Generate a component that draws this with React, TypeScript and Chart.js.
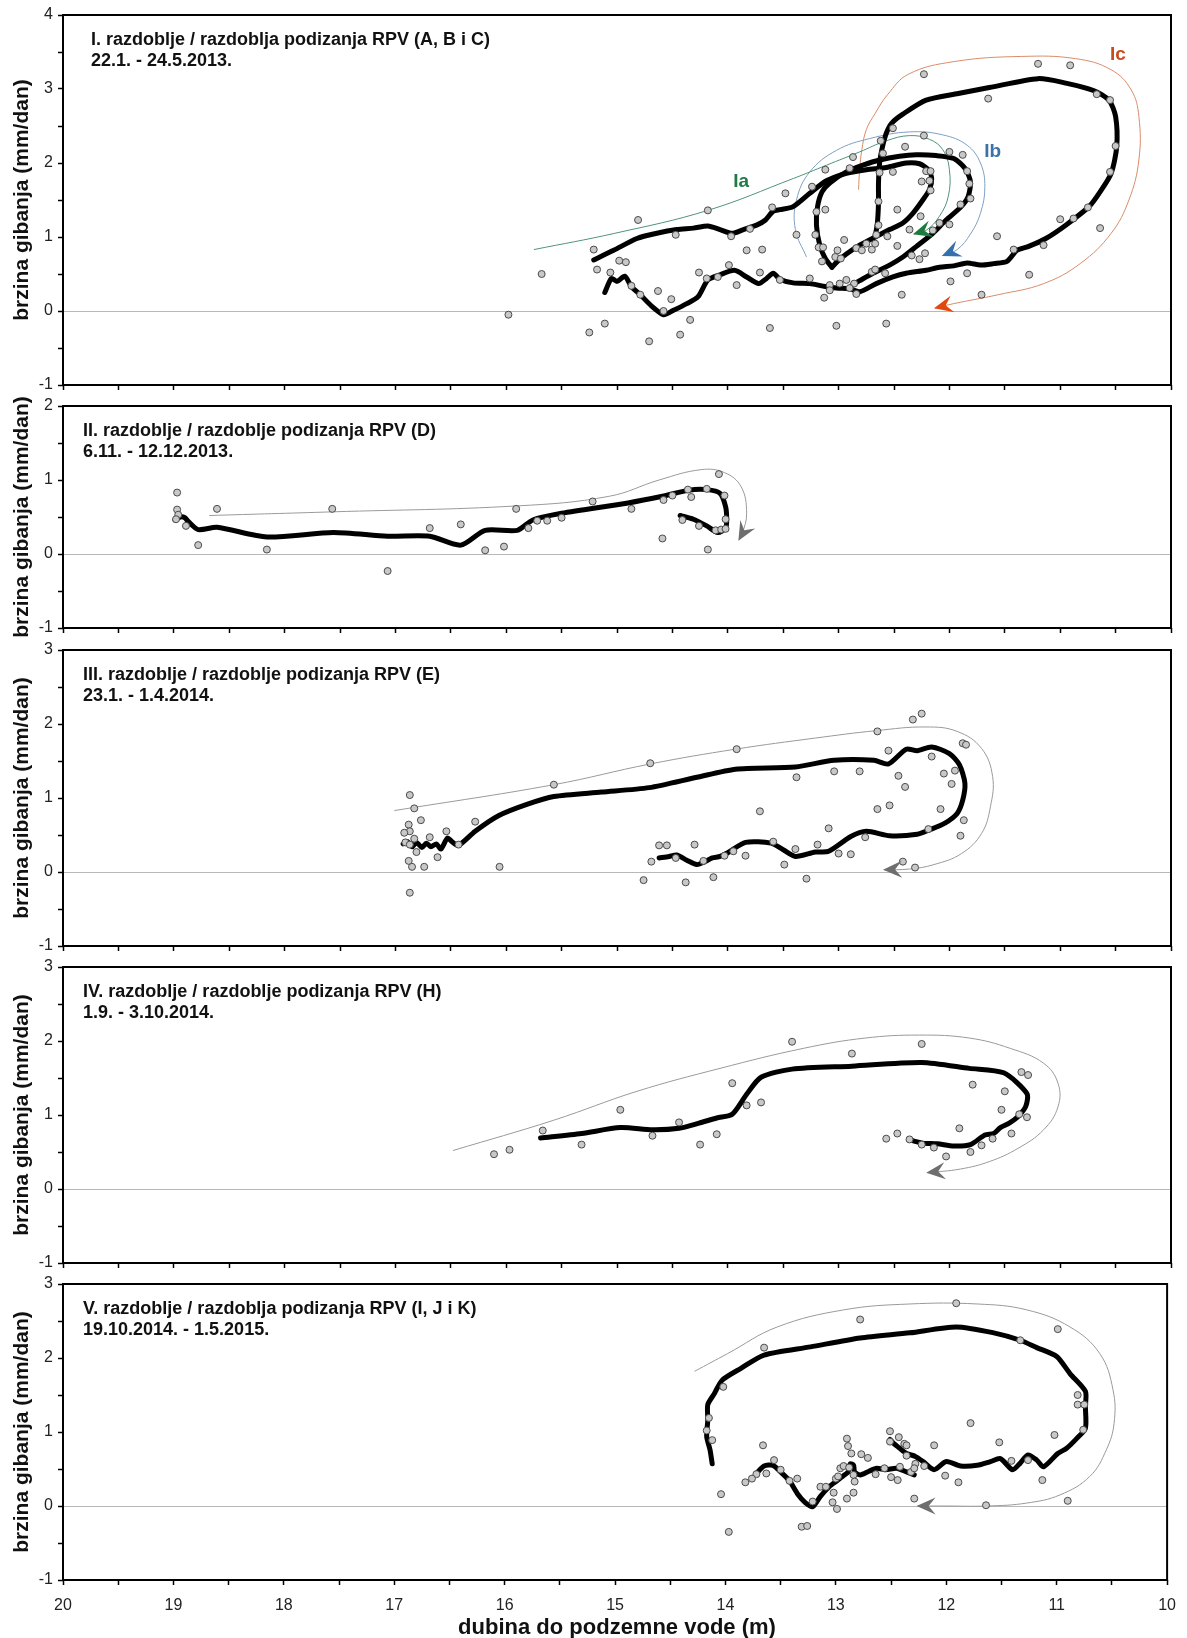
import React, { useEffect, useRef } from 'react';
import { Chart, registerables } from 'chart.js';

Chart.register(...registerables);

type Pt = [number, number];
const FONT = '"Liberation Sans", Arial, Helvetica, sans-serif';

// ---------- axis texts ----------
const xTickValues = [20, 19, 18, 17, 16, 15, 14, 13, 12, 11, 10];
const xTitle = 'dubina do podzemne vode (m)';
const yTitle = 'brzina gibanja (mm/dan)';
const yMin = [-1, -1, -1, -1, -1];
const yMax = [4, 2, 3, 3, 3];
const panelTitles: string[][] = [
  ['I. razdoblje / razdoblja podizanja RPV (A, B i C)', '22.1. - 24.5.2013.'],
  ['II. razdoblje / razdoblje podizanja RPV (D)', '6.11. - 12.12.2013.'],
  ['III. razdoblje / razdoblje podizanja RPV (E)', '23.1. - 1.4.2014.'],
  ['IV. razdoblje / razdoblje podizanja RPV (H)', '1.9. - 3.10.2014.'],
  ['V. razdoblje / razdoblja podizanja RPV (I, J i K)', '19.10.2014. - 1.5.2015.'],
];

// ---------- panel I ----------
const p1Dots: Pt[] = [
  [15.98,-0.05],[15.68,0.50],[14.81,1.23],[15.21,0.83],[15.18,0.56],[15.06,0.52],[14.98,0.68],[14.92,0.66],
  [15.25,-0.29],[15.11,-0.17],[14.71,-0.41],[14.87,0.34],[14.79,0.22],[14.63,0.27],[14.51,0.16],[14.58,0.00],
  [14.43,-0.32],[14.34,-0.12],[14.47,1.03],[14.18,1.36],[14.26,0.52],[14.19,0.44],[14.09,0.46],[13.99,0.62],
  [13.92,0.35],[13.97,1.01],[13.83,0.82],[13.80,1.11],[12.23,3.20],[11.65,2.87],[11.28,0.49],[11.20,3.34],
  [11.15,0.89],[11.00,1.24],[10.88,1.25],[10.91,3.32],[10.75,1.40],[10.64,1.12],[10.67,2.93],[10.55,2.85],
  [10.50,2.23],[10.55,1.88],
  [12.51,2.47],[12.23,2.37],[12.62,2.30],[12.40,2.22],[12.60,2.13],[12.00,2.15],[11.88,2.11],[12.87,2.08],
  [13.12,1.91],[12.90,1.93],[12.63,1.87],[12.51,1.88],[12.21,1.89],[12.17,1.89],[11.84,1.89],[13.24,1.68],
  [12.25,1.75],[12.18,1.76],[11.82,1.72],[12.17,1.63],[13.48,1.59],[11.81,1.52],[12.64,1.48],[13.60,1.40],
  [13.12,1.37],[11.90,1.44],[13.20,1.34],[12.47,1.37],[12.26,1.28],[12.64,1.16],[12.09,1.19],[12.00,1.17],
  [12.36,1.10],[12.15,1.09],[13.38,1.03],[13.21,1.03],[12.66,1.03],[12.56,1.01],[11.57,1.01],[13.69,0.83],
  [13.18,0.86],[13.14,0.86],[13.01,0.82],[12.95,0.96],[12.84,0.85],[12.79,0.82],[12.75,0.91],[12.70,0.83],
  [12.67,0.91],[12.47,0.88],[12.34,0.75],[12.27,0.70],[12.22,0.78],[11.42,0.83],[13.15,0.67],[13.03,0.73],
  [12.98,0.71],[13.71,0.52],[13.53,0.42],[13.26,0.44],[13.08,0.35],[12.99,0.37],[12.93,0.42],[12.86,0.37],
  [13.08,0.28],[12.90,0.31],[12.84,0.23],[13.13,0.18],[12.70,0.53],[12.67,0.56],[12.58,0.51],[12.43,0.22],
  [11.99,0.40],[11.84,0.51],[11.71,0.22],[13.02,-0.20],[12.57,-0.17],[13.62,-0.23],
];
const p1LineA: Pt[] = [
  [15.21,0.69],[15.03,0.82],[14.82,0.98],[14.64,1.05],[14.46,1.10],[14.31,1.12],[14.18,1.15],[14.07,1.10],
  [13.96,1.05],[13.86,1.10],[13.74,1.16],[13.66,1.23],[13.59,1.35],[13.53,1.37],[13.41,1.41],[13.26,1.59],
  [13.11,1.76],[12.93,1.86],[12.75,1.91],[12.57,1.94],[12.39,2.00],[12.27,1.99],[12.19,1.91],[12.16,1.79],
  [12.18,1.64],[12.24,1.50],[12.33,1.32],[12.42,1.19],[12.54,1.10],[12.67,1.00],[12.81,0.89],[12.93,0.77],
  [13.01,0.67],[13.06,0.59],
];
const p1LineB: Pt[] = [
  [13.06,0.59],[13.12,0.71],[13.17,0.89],[13.20,1.16],[13.19,1.41],[13.15,1.61],[13.08,1.73],[12.93,1.88],
  [12.78,1.97],[12.63,2.04],[12.45,2.09],[12.30,2.11],[12.12,2.10],[11.96,2.06],[11.86,1.93],[11.81,1.75],
  [11.83,1.55],[11.90,1.40],[12.03,1.23],[12.15,1.05],[12.30,0.87],[12.42,0.73],[12.54,0.62],[12.69,0.51],
  [12.81,0.41],[12.88,0.35],
];
const p1LineC: Pt[] = [
  [12.67,1.00],[12.65,1.19],[12.64,1.46],[12.64,1.73],[12.63,2.00],[12.61,2.18],[12.57,2.40],[12.52,2.54],
  [12.42,2.66],[12.21,2.85],[11.92,2.94],[11.64,3.02],[11.20,3.14],[10.95,3.08],[10.70,2.98],[10.56,2.85],
  [10.50,2.63],[10.49,2.22],[10.54,1.86],[10.64,1.61],[10.74,1.41],[10.95,1.16],[11.13,0.98],[11.29,0.87],
  [11.39,0.82],[11.48,0.67],[11.60,0.64],[11.72,0.62],[11.84,0.65],[11.96,0.61],[12.09,0.59],[12.21,0.55],
  [12.39,0.51],[12.51,0.46],[12.66,0.37],[12.81,0.26],[12.90,0.30],[13.02,0.31],[13.12,0.33],[13.26,0.37],
  [13.41,0.38],[13.53,0.43],[13.59,0.51],[13.65,0.44],[13.72,0.37],[13.83,0.46],[13.94,0.55],[14.07,0.49],
  [14.18,0.42],[14.27,0.19],[14.37,0.10],[14.49,0.01],[14.58,-0.05],[14.69,0.07],[14.79,0.22],[14.87,0.33],
  [14.93,0.47],[15.00,0.40],[15.05,0.44],[15.11,0.25],
];
const p1ArrowA: Pt[] = [
  [15.75,0.83],[15.02,1.05],[14.18,1.36],[13.41,1.79],[13.11,1.97],[12.81,2.15],[12.57,2.30],[12.36,2.37],
  [12.18,2.32],[12.06,2.18],[12.00,1.91],[12.01,1.55],[12.09,1.28],[12.21,1.09],[12.32,1.04],
];
const p1ArrowB: Pt[] = [
  [13.29,0.73],[13.39,1.10],[13.38,1.50],[13.26,1.88],[13.02,2.17],[12.72,2.33],[12.36,2.42],[12.06,2.38],
  [11.84,2.24],[11.72,2.00],[11.68,1.68],[11.72,1.32],[11.81,1.04],[11.93,0.83],[12.06,0.75],
];
const p1ArrowC: Pt[] = [
  [12.82,1.64],[12.81,1.91],[12.79,2.18],[12.75,2.45],[12.67,2.67],[12.56,2.92],[12.37,3.20],[11.96,3.37],
  [11.35,3.44],[10.86,3.41],[10.54,3.26],[10.36,2.99],[10.29,2.63],[10.29,2.04],[10.38,1.50],[10.54,1.05],
  [10.82,0.64],[11.15,0.37],[11.56,0.22],[11.96,0.10],[12.13,0.04],
];
const p1LabelText = ['Ia', 'Ib', 'Ic'];
const p1LabelPos: Pt[] = [[13.88,1.75],[11.61,2.15],[10.48,3.46]];

// ---------- panel II ----------
const p2Dots: Pt[] = [
  [18.97,0.83],[18.97,0.60],[18.96,0.53],[18.98,0.47],[18.89,0.38],[18.78,0.12],[18.61,0.61],[18.16,0.06],
  [17.57,0.61],[17.07,-0.23],[16.69,0.35],[16.41,0.40],[16.19,0.05],[16.02,0.10],[15.91,0.61],[15.80,0.35],
  [15.72,0.45],[15.63,0.45],[15.50,0.49],[15.22,0.71],[14.87,0.61],[14.59,0.21],[14.58,0.73],[14.50,0.79],
  [14.36,0.87],[14.33,0.77],[14.19,0.88],[14.08,1.08],[14.03,0.79],[14.41,0.46],[14.26,0.38],[14.18,0.06],
  [14.11,0.32],[14.06,0.33],[14.02,0.34],[14.02,0.47],
];
const p2Line: Pt[] = [
  [18.99,0.46],[18.94,0.50],[18.90,0.49],[18.87,0.44],[18.78,0.33],[18.61,0.36],[18.16,0.23],[17.56,0.29],
  [17.07,0.24],[16.69,0.24],[16.41,0.12],[16.19,0.32],[15.90,0.32],[15.76,0.46],[15.50,0.55],[14.90,0.69],
  [14.59,0.78],[14.36,0.86],[14.19,0.87],[14.07,0.82],[14.02,0.64],[14.01,0.46],[14.02,0.35],[14.09,0.29],
  [14.19,0.38],[14.31,0.47],[14.43,0.52],
];
const p2Arrow: Pt[] = [
  [18.68,0.52],[17.56,0.57],[15.90,0.65],[15.07,0.78],[14.62,1.00],[14.24,1.14],[14.03,1.10],[13.88,0.91],
  [13.83,0.55],[13.87,0.27],[13.90,0.19],
];

// ---------- panel III ----------
const p3Dots: Pt[] = [
  [16.87,1.04],[16.83,0.86],[16.77,0.70],[16.88,0.64],[16.87,0.55],[16.92,0.53],[16.83,0.45],[16.91,0.40],
  [16.87,0.37],[16.81,0.27],[16.69,0.47],[16.54,0.55],[16.62,0.20],[16.74,0.07],[16.85,0.07],[16.88,0.15],
  [16.87,-0.28],[16.28,0.68],[16.43,0.37],[16.06,0.07],[15.57,1.18],[14.70,1.47],[14.76,-0.11],[14.69,0.14],
  [14.62,0.36],[14.55,0.36],[14.47,0.19],[14.38,-0.14],[14.30,0.37],[14.22,0.15],[14.13,-0.07],[14.03,0.22],
  [13.95,0.28],[13.92,1.66],[13.84,0.22],[13.71,0.82],[13.59,0.41],[13.49,0.10],[13.39,0.31],[13.38,1.28],
  [13.29,-0.09],[13.19,0.37],[13.09,0.59],[13.04,1.36],[13.00,0.25],[12.89,0.24],[12.81,1.36],[12.76,0.47],
  [12.65,0.85],[12.65,1.90],[12.55,1.64],[12.54,0.90],[12.46,1.30],[12.42,0.14],[12.40,1.15],[12.33,2.06],
  [12.25,2.14],[12.31,0.06],[12.19,0.58],[12.16,1.56],[12.08,0.85],[12.05,1.33],[11.98,1.19],[11.95,1.37],
  [11.88,1.74],[11.85,1.72],[11.87,0.70],[11.90,0.49],
];
const p3Line: Pt[] = [
  [16.93,0.38],[16.89,0.41],[16.85,0.34],[16.81,0.40],[16.76,0.33],[16.72,0.39],[16.68,0.34],[16.63,0.38],
  [16.59,0.31],[16.53,0.46],[16.49,0.41],[16.43,0.36],[16.28,0.55],[16.07,0.76],[15.82,0.91],[15.57,1.02],
  [15.14,1.08],[14.71,1.14],[14.28,1.28],[13.93,1.39],[13.39,1.42],[13.04,1.51],[12.68,1.51],[12.55,1.46],
  [12.39,1.66],[12.29,1.64],[12.16,1.69],[12.00,1.60],[11.91,1.45],[11.86,1.20],[11.88,0.97],[11.93,0.79],
  [12.04,0.66],[12.18,0.57],[12.29,0.51],[12.54,0.49],[12.75,0.55],[12.89,0.48],[13.09,0.28],[13.21,0.27],
  [13.39,0.21],[13.50,0.30],[13.61,0.39],[13.84,0.40],[14.00,0.26],[14.07,0.21],[14.14,0.19],[14.22,0.13],
  [14.28,0.10],[14.37,0.16],[14.46,0.23],[14.53,0.21],[14.62,0.19],
];
const p3Arrow: Pt[] = [
  [17.01,0.83],[15.57,1.18],[14.70,1.46],[13.93,1.66],[13.21,1.81],[12.66,1.91],[12.21,1.96],[11.93,1.90],
  [11.71,1.67],[11.61,1.29],[11.63,0.88],[11.71,0.52],[11.89,0.25],[12.14,0.10],[12.36,0.04],[12.59,0.03],
];

// ---------- panel IV ----------
const p4Dots: Pt[] = [
  [16.11,0.47],[15.97,0.53],[15.67,0.79],[15.32,0.60],[14.97,1.07],[14.68,0.72],[14.44,0.90],[14.25,0.60],
  [14.10,0.74],[13.96,1.43],[13.83,1.13],[13.70,1.17],[13.42,1.99],[12.88,1.83],[12.57,0.68],[12.47,0.75],
  [12.36,0.67],[12.25,1.96],[12.25,0.60],[12.14,0.56],[12.03,0.44],[11.91,0.82],[11.81,0.50],[11.79,1.41],
  [11.71,0.59],[11.61,0.68],[11.53,1.07],[11.50,1.32],[11.44,0.75],[11.37,1.01],[11.35,1.58],[11.29,1.54],
  [11.30,0.97],
];
const p4Line: Pt[] = [
  [15.69,0.69],[15.32,0.75],[14.97,0.83],[14.68,0.80],[14.44,0.82],[14.26,0.89],[14.10,0.96],[13.96,1.01],
  [13.83,1.28],[13.70,1.51],[13.42,1.62],[12.88,1.66],[12.25,1.71],[11.82,1.63],[11.51,1.57],[11.30,1.29],
  [11.31,1.12],[11.38,0.98],[11.46,0.89],[11.54,0.83],[11.60,0.75],[11.68,0.73],[11.81,0.60],[11.96,0.58],
  [12.11,0.61],[12.24,0.62],[12.35,0.66],
];
const p4Arrow: Pt[] = [
  [16.48,0.52],[15.57,0.93],[14.82,1.32],[14.07,1.63],[13.32,1.90],[12.76,2.04],[12.27,2.08],[11.82,2.04],
  [11.45,1.90],[11.15,1.70],[11.02,1.43],[11.02,1.11],[11.15,0.80],[11.38,0.55],[11.64,0.37],[11.90,0.27],
  [12.20,0.22],
];

// ---------- panel V ----------
const p5Dots: Pt[] = [
  [11.91,2.74],[12.78,2.52],[10.99,2.39],[13.65,2.14],[11.33,2.24],[14.02,1.61],[14.15,1.19],[14.17,1.02],
  [14.12,0.89],[10.81,1.50],[10.81,1.37],[10.75,1.37],[11.78,1.12],[10.76,1.03],[11.02,0.96],[11.52,0.86],
  [12.11,0.82],[13.66,0.82],[12.51,1.01],[12.43,0.93],[12.51,0.87],[12.38,0.84],[12.36,0.82],[12.90,0.91],
  [12.89,0.81],[12.86,0.71],[12.77,0.70],[12.71,0.65],[12.36,0.68],[12.28,0.57],[11.41,0.61],[11.26,0.62],
  [13.56,0.62],[13.50,0.49],[13.63,0.44],[13.72,0.43],[13.76,0.37],[13.82,0.32],[13.35,0.37],[13.42,0.34],
  [12.96,0.51],[12.93,0.54],[12.88,0.52],[12.84,0.42],[13.00,0.37],[12.98,0.40],[12.83,0.33],[12.64,0.43],
  [12.56,0.51],[12.50,0.39],[12.44,0.35],[12.42,0.53],[12.32,0.46],[12.29,0.51],[12.20,0.54],[12.01,0.41],
  [11.89,0.32],[11.13,0.35],[14.04,0.16],[13.14,0.26],[13.09,0.26],[13.02,0.18],[12.84,0.18],[12.90,0.10],
  [13.03,0.05],[12.99,-0.04],[13.21,0.06],[12.29,0.10],[11.64,0.01],[10.90,0.07],[13.31,-0.28],[13.26,-0.27],
  [13.97,-0.35],
];
const p5LineA: Pt[] = [
  [14.12,0.57],[14.14,0.76],[14.17,0.94],[14.16,1.16],[14.16,1.37],[14.10,1.52],[14.03,1.70],[13.86,1.86],
  [13.65,2.04],[13.23,2.15],[12.78,2.27],[12.33,2.34],[11.91,2.42],[11.57,2.34],[11.33,2.24],[11.18,2.14],
  [11.00,2.02],[10.88,1.79],[10.74,1.55],[10.74,1.34],[10.74,1.05],[10.82,0.91],[10.91,0.78],[10.99,0.71],
  [11.12,0.53],[11.18,0.62],[11.26,0.69],[11.33,0.58],[11.40,0.49],[11.51,0.64],[11.60,0.60],[11.72,0.55],
  [11.87,0.54],[12.00,0.60],[12.11,0.49],[12.21,0.60],[12.28,0.67],[12.36,0.71],[12.43,0.79],[12.48,0.85],
  [12.51,0.90],
];
const p5LineB: Pt[] = [
  [13.72,0.44],[13.65,0.54],[13.57,0.55],[13.50,0.46],[13.42,0.34],[13.35,0.17],[13.28,0.05],[13.21,-0.01],
  [13.14,0.13],[13.06,0.26],[12.99,0.34],[12.93,0.41],[12.89,0.46],[12.87,0.57],[12.84,0.55],[12.83,0.46],
  [12.78,0.42],[12.70,0.47],[12.63,0.51],[12.55,0.49],[12.45,0.51],[12.36,0.46],[12.29,0.42],
];
const p5Arrow: Pt[] = [
  [14.28,1.82],[13.98,2.06],[13.53,2.42],[12.93,2.65],[12.33,2.73],[11.72,2.73],[11.27,2.65],[10.88,2.42],
  [10.61,2.06],[10.49,1.57],[10.48,1.12],[10.55,0.76],[10.70,0.40],[10.97,0.15],[11.27,0.04],[11.63,0.00],
  [12.02,0.00],[12.26,0.00],
];

// ---------- styling / layout ----------
const GREY_LINE = '#9a9a9a';
const GREY_HEAD = '#6e6e6e';
const p1ArrowColors = [
  { line: '#4f9479', head: '#1d7a3e', text: '#1e7a46' },
  { line: '#7f9fc2', head: '#3470ad', text: '#3b72a8' },
  { line: '#d98c69', head: '#e2470f', text: '#c94a1c' },
];
const PLOT_LEFT = 63;
const PLOT_RIGHT = 1171;
const PAGE_W = 1187;
const panelTop = [15, 406, 650, 967, 1284];
const panelBottom = [385, 628, 946, 1263, 1580];
const titleX = [91, 83, 83, 83, 83];
const PAD_TOP = 30;

const toXY = (a: Pt[]) => a.map(([x, y]) => ({ x, y }));

function dotsDs(a: Pt[]) {
  return {
    data: toXY(a), showLine: false, pointRadius: 3.5, pointHoverRadius: 3.5,
    pointBackgroundColor: '#c8c8c8', pointBorderColor: '#4a4a4a', pointBorderWidth: 1,
  };
}
function lineDs(a: Pt[]) {
  return {
    data: toXY(a), showLine: true, borderColor: '#000', borderWidth: 5, pointRadius: 0,
    tension: 0.25, borderJoinStyle: 'round', borderCapStyle: 'round', fill: false,
  };
}
function arrowDs(a: Pt[], line: string, head: string) {
  return {
    data: toXY(a), showLine: true, borderColor: line, borderWidth: 1, pointRadius: 0,
    tension: 0.4, fill: false, arrowHead: head,
  };
}

function buildDatasets(i: number): any[] {
  if (i === 0) {
    return [
      dotsDs(p1Dots), lineDs(p1LineA), lineDs(p1LineB), lineDs(p1LineC),
      arrowDs(p1ArrowA, p1ArrowColors[0].line, p1ArrowColors[0].head),
      arrowDs(p1ArrowB, p1ArrowColors[1].line, p1ArrowColors[1].head),
      arrowDs(p1ArrowC, p1ArrowColors[2].line, p1ArrowColors[2].head),
    ];
  }
  if (i === 1) return [dotsDs(p2Dots), lineDs(p2Line), arrowDs(p2Arrow, GREY_LINE, GREY_HEAD)];
  if (i === 2) return [dotsDs(p3Dots), lineDs(p3Line), arrowDs(p3Arrow, GREY_LINE, GREY_HEAD)];
  if (i === 3) return [dotsDs(p4Dots), lineDs(p4Line), arrowDs(p4Arrow, GREY_LINE, GREY_HEAD)];
  return [dotsDs(p5Dots), lineDs(p5LineA), lineDs(p5LineB), arrowDs(p5Arrow, GREY_LINE, GREY_HEAD)];
}

function bottomExtra(i: number) { return i === 4 ? 58 : 30; }
function xAxisH(i: number) { return i === 4 ? 32 : 8; }
function canvasTop(i: number) { return panelTop[i] - PAD_TOP; }
function canvasH(i: number) { return panelBottom[i] - panelTop[i] + PAD_TOP + bottomExtra(i); }

function decoPlugin(i: number) {
  return {
    id: 'deco' + i,
    afterDatasetsDraw(chart: any) {
      const ctx = chart.ctx;
      chart.data.datasets.forEach((ds: any, k: number) => {
        if (!ds.arrowHead) return;
        const pts = chart.getDatasetMeta(k).data;
        const b = pts[pts.length - 1];
        const p = pts[pts.length - 2];
        const ang = Math.atan2(b.y - p.y, b.x - p.x);
        ctx.save();
        ctx.translate(b.x, b.y);
        ctx.rotate(ang);
        ctx.beginPath();
        ctx.moveTo(1, 0);
        ctx.lineTo(-18, 8.5);
        ctx.lineTo(-11, 0);
        ctx.lineTo(-18, -8.5);
        ctx.closePath();
        ctx.fillStyle = ds.arrowHead;
        ctx.fill();
        ctx.restore();
      });
    },
    afterDraw(chart: any) {
      const ctx = chart.ctx;
      const a = chart.chartArea;
      ctx.save();
      // frame
      ctx.strokeStyle = '#000';
      ctx.lineWidth = 2;
      ctx.strokeRect(a.left, a.top, a.right - a.left, a.bottom - a.top);
      // panel title
      ctx.fillStyle = '#111';
      ctx.font = `bold 18px ${FONT}`;
      ctx.textAlign = 'left';
      ctx.textBaseline = 'alphabetic';
      ctx.fillText(panelTitles[i][0], titleX[i], a.top + 30);
      ctx.fillText(panelTitles[i][1], titleX[i], a.top + 51);
      // y title
      ctx.save();
      ctx.translate(22, (a.top + a.bottom) / 2);
      ctx.rotate(-Math.PI / 2);
      ctx.textAlign = 'center';
      ctx.textBaseline = 'middle';
      ctx.font = `bold 21px ${FONT}`;
      ctx.fillText(yTitle, 0, 0);
      ctx.restore();
      // x title
      if (i === 4) {
        ctx.textAlign = 'center';
        ctx.textBaseline = 'middle';
        ctx.font = `bold 22px ${FONT}`;
        ctx.fillText(xTitle, (PLOT_LEFT + PLOT_RIGHT) / 2, 1628 - canvasTop(i));
      }
      // loop labels
      if (i === 0) {
        ctx.font = `bold 19px ${FONT}`;
        ctx.textAlign = 'center';
        ctx.textBaseline = 'middle';
        p1LabelText.forEach((t, k) => {
          ctx.fillStyle = p1ArrowColors[k].text;
          ctx.fillText(t, chart.scales.x.getPixelForValue(p1LabelPos[k][0]), chart.scales.y.getPixelForValue(p1LabelPos[k][1]));
        });
      }
      ctx.restore();
    },
  };
}

function Panel({ i }: { i: number }) {
  const ref = useRef<HTMLCanvasElement | null>(null);
  useEffect(() => {
    if (!ref.current) return;
    const showX = i === 4;
    const chart = new Chart(ref.current, {
      type: 'scatter',
      data: { datasets: buildDatasets(i) },
      options: {
        animation: false,
        responsive: false,
        events: [],
        layout: { padding: { top: PAD_TOP, right: PAGE_W - PLOT_RIGHT, bottom: bottomExtra(i) - xAxisH(i), left: 0 } },
        plugins: { legend: { display: false }, tooltip: { enabled: false } },
        scales: {
          x: {
            type: 'linear', reverse: true, min: 10, max: 20,
            border: { display: false },
            afterFit: (s: any) => { s.height = xAxisH(i); },
            grid: { drawOnChartArea: false, drawTicks: true, tickLength: 5, tickColor: '#000', tickWidth: 1.5 },
            ticks: {
              stepSize: 0.5, autoSkip: false, maxRotation: 0, padding: 11, color: '#222',
              font: { size: 16, family: FONT },
              callback: (v: any) => (showX && xTickValues.includes(Number(v)) ? String(v) : ''),
            },
          },
          y: {
            type: 'linear', min: yMin[i], max: yMax[i],
            border: { display: false },
            afterFit: (s: any) => { s.width = PLOT_LEFT; },
            grid: {
              drawOnChartArea: true, drawTicks: true, tickLength: 5, tickColor: '#000', tickWidth: 1.5,
              lineWidth: 1,
              color: (c: any) => (c.tick && c.tick.value === 0 ? '#b8b8b8' : 'rgba(0,0,0,0)'),
            },
            ticks: {
              stepSize: 0.5, autoSkip: false, padding: 5, color: '#222',
              font: { size: 16, family: FONT },
              callback: (v: any) => (Number.isInteger(Number(v)) ? String(v) : ''),
            },
          },
        },
      } as any,
      plugins: [decoPlugin(i)],
    });
    return () => chart.destroy();
  }, [i]);
  const h = canvasH(i);
  return (
    <canvas
      ref={ref}
      width={PAGE_W}
      height={h}
      style={{ position: 'absolute', left: 0, top: canvasTop(i), width: PAGE_W, height: h }}
    />
  );
}

export default function App() {
  return (
    <div style={{ position: 'absolute', left: 0, top: 0, width: PAGE_W, height: 1638, background: '#fff', overflow: 'hidden' }}>
      {[0, 1, 2, 3, 4].map((i) => (
        <Panel key={i} i={i} />
      ))}
    </div>
  );
}
